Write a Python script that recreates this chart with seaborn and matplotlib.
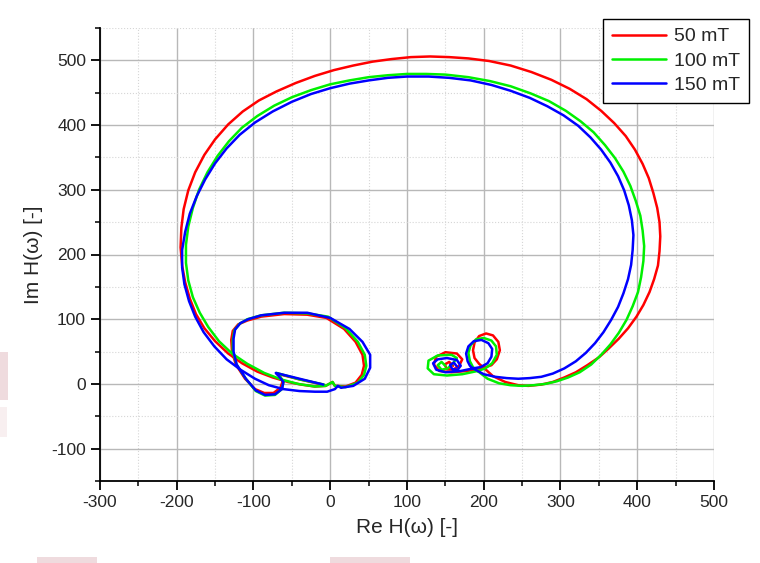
import matplotlib
matplotlib.use("Agg")
import matplotlib.pyplot as plt
from matplotlib.lines import Line2D
from matplotlib.patches import Rectangle
from matplotlib.ticker import MultipleLocator
import numpy as np
import pandas as pd
import seaborn as sns

# Frequency-response locus H(ω) for three magnetic field levels
fields = ["50 mT", "100 mT", "150 mT"]
colors = ["#ff0000", "#00f000", "#0000ff"]

re_50 = [160, 155, 149, 152, 160, 168, 172, 165, 150, 138, 135, 142, 158, 178,
         200, 210, 217, 221, 219, 212, 203, 194, 188, 186, 188, 194, 200,
         212, 228, 245, 258, 275, 290, 305, 320, 335, 350, 363, 376, 388, 399, 408,
         416, 422, 427, 429, 430, 429, 426, 421, 415, 407, 397, 385, 370, 353, 334,
         312, 288, 262, 235, 207, 180, 155, 130, 105, 80, 55, 30, 5, -20, -45, -70,
         -93, -114, -133, -150, -164, -176, -185, -191, -194, -195, -193, -189,
         -183, -175, -164, -150, -133, -115, -95, -75, -55, -38, -20, -6, 0, 3, 6,
         20, 33, 41, 44, 42, 33, 18, -5, -30, -60, -90, -108, -120, -127, -129,
         -128, -123, -111, -98, -86, -74, -65, -62, -67, -70, -40, -10]
im_50 = [28, 34, 30, 23, 22, 28, 38, 47, 49, 42, 30, 20, 18, 20,
         25, 29, 38, 52, 65, 75, 78, 74, 64, 52, 40, 31, 25,
         12, 3, -2, -3, -1, 3, 10, 18, 29, 41, 55, 70, 86, 104, 122,
         142, 162, 183, 205, 228, 250, 272, 295, 318, 340, 362, 383, 403, 422, 440,
         456, 470, 482, 492, 499, 503, 505, 506, 505, 502, 498, 492, 485, 476, 465, 452,
         438, 421, 401, 378, 354, 327, 299, 270, 241, 211, 183, 157,
         132, 108, 86, 66, 47, 32, 19, 10, 3, -1, -4, -3, 1, 3, -3,
         -4, 2, 14, 28, 45, 65, 85, 102, 107, 108, 104, 98, 92, 82, 68,
         50, 30, 8, -8, -14, -14, -6, 4, 13, 16, 7, -1]

re_100 = [150, 145, 140, 145, 153, 160, 165, 158, 140, 128, 127, 135, 152, 172,
          192, 202, 211, 217, 216, 210, 200, 190, 183, 180, 182, 186, 192,
          205, 220, 235, 250, 265, 280, 295, 310, 325, 340, 353, 365, 376, 386, 394,
          401, 405, 408, 409, 407, 404, 398, 391, 382, 371, 358, 343, 326, 307, 285,
          261, 235, 208, 180, 150, 125, 100, 75, 50, 25, 0, -25, -50, -73, -95,
          -115, -132, -147, -160, -171, -179, -185, -188, -188, -185, -179, -170,
          -159, -145, -128, -108, -86, -64, -42, -20, -6, 0, 3, 6, 20, 36, 44, 47,
          45, 36, 20, -3, -30, -60, -90, -108, -118, -125, -127, -127, -122, -110,
          -97, -85, -72, -63, -61, -66, -70, -40, -8]
im_100 = [28, 34, 29, 22, 24, 32, 40, 45, 44, 36, 24, 15, 13, 15,
          20, 24, 32, 45, 58, 67, 71, 69, 60, 48, 35, 26, 20,
          8, 1, -2, -3, -2, 0, 4, 10, 18, 30, 45, 61, 79, 99, 120,
          142, 165, 190, 213, 237, 260, 283, 306, 328, 349, 369, 389, 406, 422, 437,
          449, 460, 468, 474, 478, 479, 479, 477, 474, 469, 463, 454, 443, 430, 414,
          396, 375, 352, 327, 300, 272, 243, 215, 187, 160, 134, 110,
          88, 66, 47, 31, 17, 7, 0, -4, -3, 1, 3, -3, -5, 2, 14, 28,
          45, 65, 86, 104, 109, 110, 106, 100, 93, 83, 68, 50, 30, 8,
          -11, -18, -17, -8, 3, 13, 17, 7, -1]

re_150 = [165, 161, 156, 159, 166, 170, 165, 152, 140, 134, 138, 150, 170,
          186, 196, 205, 210, 211, 206, 197, 187, 180, 177, 179, 182, 186,
          200, 215, 230, 245, 260, 275, 290, 305, 320, 333, 345, 356, 366, 375, 382,
          388, 392, 394, 395, 393, 389, 383, 375, 365, 353, 339, 323, 304, 283, 260,
          235, 210, 183, 155, 128, 100, 75, 50, 25, 0, -25, -50, -75, -98, -118,
          -135, -150, -163, -174, -183, -189, -193, -193, -190, -184, -176, -165,
          -151, -135, -117, -98, -80, -61, -40, -20, -4, 6, 10, 14, 30, 45, 52, 52,
          42, 25, 0, -30, -60, -90, -107, -117, -124, -126, -126, -122, -110, -97,
          -85, -72, -63, -61, -67, -71, -40, -9]
im_150 = [27, 33, 29, 23, 22, 28, 37, 40, 38, 32, 22, 18, 20,
          24, 26, 32, 42, 54, 63, 68, 66, 58, 47, 35, 28, 24,
          15, 11, 9, 8, 9, 11, 16, 24, 35, 48, 63, 80, 99, 119, 140,
          162, 184, 207, 230, 253, 276, 299, 321, 342, 362, 381, 399, 415, 429, 442,
          453, 462, 469, 473, 475, 475, 473, 469, 464, 457, 448, 436, 421, 404, 385,
          364, 341, 316, 290, 263, 235, 207, 180, 154, 128, 104, 80,
          58, 38, 22, 8, -2, -8, -11, -12, -12, -8, -3, -6, -3, 8, 25, 45,
          65, 85, 102, 110, 110, 106, 100, 94, 84, 70, 50, 30, 8, -10,
          -17, -16, -8, 3, 12, 17, 8, -1]

series = [(fields[0], re_50, im_50), (fields[1], re_100, im_100), (fields[2], re_150, im_150)]
frames = []
for name, xs, ys in series:
    frames.append(pd.DataFrame({"re": xs, "im": ys, "field": name, "step": np.arange(len(xs))}))
df = pd.concat(frames, ignore_index=True)

sns.set_style("white")
plt.rcParams["font.family"] = ["Liberation Sans", "DejaVu Sans"]
plt.rcParams["axes.unicode_minus"] = False

fig = plt.figure(figsize=(7.6, 5.63), dpi=100)
ax = fig.add_axes([100 / 760, 82 / 563, 614 / 760, 453 / 563])

sns.lineplot(data=df, x="re", y="im", hue="field", hue_order=fields,
             palette=colors, sort=False, estimator=None, units="field",
             linewidth=1.8, legend=False, ax=ax)
for ln in ax.get_lines():
    ln.set_solid_joinstyle("round")
    ln.set_solid_capstyle("round")

ax.set_xlim(-300, 500)
ax.set_ylim(-150, 550)
ax.xaxis.set_major_locator(MultipleLocator(100))
ax.xaxis.set_minor_locator(MultipleLocator(50))
ax.yaxis.set_major_locator(MultipleLocator(100))
ax.yaxis.set_minor_locator(MultipleLocator(50))

ax.set_axisbelow(True)
ax.grid(True, which="major", color="#b8b8b8", linewidth=1.0, linestyle="-")
ax.grid(True, which="minor", color="#d6d6d6", linewidth=0.8, linestyle=":")

for side in ("top", "right"):
    ax.spines[side].set_visible(False)
for side in ("left", "bottom"):
    ax.spines[side].set_color("black")
    ax.spines[side].set_linewidth(1.3)

ax.tick_params(which="major", direction="out", length=6.5, width=1.3,
               color="black", labelsize=12.5, pad=3.5, left=True, bottom=True)
ax.tick_params(which="minor", direction="out", length=3.8, width=1.1,
               color="black", left=True, bottom=True)

ax.set_xlabel("Re H(ω) [-]", fontsize=15, labelpad=6)
ax.set_ylabel("Im H(ω) [-]", fontsize=15, labelpad=6)

handles = [Line2D([0], [0], color=c, linewidth=1.8) for c in colors]
leg = ax.legend(handles, fields, loc="upper right",
                bbox_to_anchor=(749 / 760, 544 / 563), bbox_transform=fig.transFigure,
                frameon=True, fancybox=False, edgecolor="black", framealpha=1,
                fontsize=14, handlelength=2.8, handletextpad=0.4,
                borderpad=0.45, labelspacing=0.35, borderaxespad=0)
leg.get_frame().set_linewidth(1.0)

# faint pink marks along the page edges
for (x0, y0, w, h, a) in [(0, 163, 8, 48, 0.8), (0, 126, 7, 30, 0.35),
                          (37, 0, 60, 6, 0.8), (330, 0, 80, 6, 0.8)]:
    fig.add_artist(Rectangle((x0 / 760, y0 / 563), w / 760, h / 563,
                             transform=fig.transFigure, facecolor="#ecd3d6",
                             edgecolor="none", alpha=a, zorder=0))

fig.savefig("out.png", dpi=100)
